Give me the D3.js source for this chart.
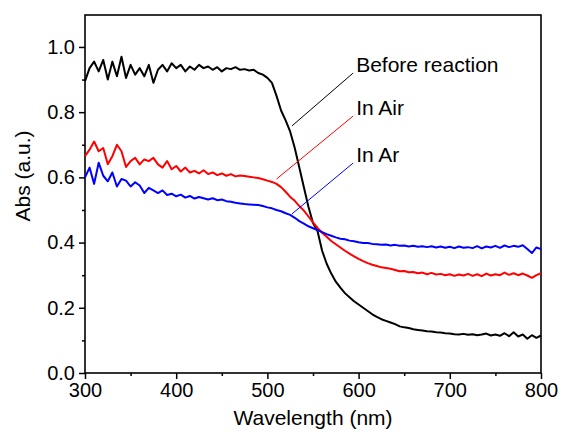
<!DOCTYPE html>
<html>
<head>
<meta charset="utf-8">
<script src="https://cdn.jsdelivr.net/npm/d3@7"></script>
<style>
  body { margin: 0; background: #fff; }
  text { font-family: "Liberation Sans", Arial, sans-serif; fill: #000; }
</style>
</head>
<body>
<svg id="chart"></svg>
<script>
// wavelength grid (nm), 5 nm steps
const wavelengths = d3.range(300, 801, 5);

// Before reaction
const beforeAbs = [
  0.895, 0.935, 0.955, 0.925, 0.960, 0.900, 0.955, 0.910, 0.970, 0.905,
  0.945, 0.915, 0.935, 0.910, 0.945, 0.890, 0.930, 0.945, 0.925, 0.950,
  0.935, 0.945, 0.925, 0.940, 0.930, 0.945, 0.935, 0.940, 0.930, 0.938,
  0.925, 0.935, 0.932, 0.938, 0.930, 0.932, 0.928, 0.930, 0.920, 0.915,
  0.905, 0.890, 0.850, 0.805, 0.775, 0.740, 0.690, 0.630, 0.570, 0.510,
  0.460, 0.435, 0.375, 0.335, 0.305, 0.280, 0.262, 0.245, 0.232, 0.220,
  0.210, 0.200, 0.190, 0.180, 0.172, 0.165, 0.160, 0.155, 0.150, 0.143,
  0.140, 0.138, 0.134, 0.132, 0.130, 0.128, 0.127, 0.125, 0.124, 0.122,
  0.121, 0.119, 0.118, 0.120, 0.117, 0.119, 0.116, 0.118, 0.121, 0.115,
  0.118, 0.114, 0.122, 0.113, 0.125, 0.112, 0.118, 0.105, 0.116, 0.108,
  0.115
];

// In Air
const airAbs = [
  0.665, 0.685, 0.710, 0.680, 0.690, 0.640, 0.665, 0.700, 0.680, 0.632,
  0.650, 0.660, 0.640, 0.655, 0.650, 0.660, 0.640, 0.630, 0.650, 0.625,
  0.635, 0.618, 0.630, 0.615, 0.620, 0.612, 0.622, 0.610, 0.615, 0.607,
  0.612, 0.605, 0.610, 0.603, 0.606, 0.604, 0.602, 0.600, 0.598, 0.594,
  0.590, 0.586, 0.580, 0.570, 0.556, 0.540, 0.528, 0.512, 0.498, 0.480,
  0.462, 0.445, 0.430, 0.418, 0.405, 0.395, 0.385, 0.375, 0.366, 0.358,
  0.350, 0.343, 0.337, 0.332, 0.328, 0.324, 0.322, 0.320, 0.316, 0.312,
  0.313, 0.309, 0.310, 0.306, 0.308, 0.303, 0.307, 0.302, 0.304, 0.300,
  0.303, 0.298, 0.302, 0.299, 0.304, 0.298, 0.303, 0.297, 0.305, 0.299,
  0.303, 0.300, 0.308, 0.301, 0.306, 0.300, 0.305, 0.299, 0.292, 0.300,
  0.306
];

// In Ar
const arAbs = [
  0.600, 0.630, 0.580, 0.645, 0.605, 0.588, 0.615, 0.572, 0.595, 0.590,
  0.572, 0.585, 0.575, 0.552, 0.568, 0.560, 0.552, 0.560, 0.546, 0.550,
  0.542, 0.547, 0.538, 0.543, 0.535, 0.540, 0.536, 0.532, 0.536, 0.530,
  0.532, 0.527, 0.525, 0.522, 0.520, 0.518, 0.517, 0.516, 0.515, 0.512,
  0.508, 0.505, 0.500, 0.496, 0.490, 0.485, 0.476, 0.466, 0.458, 0.450,
  0.444, 0.438, 0.432, 0.426, 0.421, 0.416, 0.412, 0.410, 0.406, 0.404,
  0.401, 0.399, 0.399, 0.396, 0.395, 0.393, 0.394, 0.391, 0.393, 0.390,
  0.391, 0.388, 0.390, 0.387, 0.389, 0.386, 0.389, 0.385, 0.388, 0.384,
  0.387, 0.383, 0.388, 0.384, 0.386, 0.383, 0.389, 0.382, 0.388, 0.385,
  0.390, 0.384, 0.391, 0.386, 0.390, 0.387, 0.392, 0.380, 0.368, 0.385,
  0.380
];

const seriesNames = ["Before reaction", "In Air", "In Ar"];
const seriesColors = ["#000000", "#ff0000", "#0000ff"];
// leader line: [label nm, label abs] -> [curve nm, curve abs]
const labelAt = [[594, 0.920], [594, 0.788], [594, 0.644]];
const pointAt = [[527, 0.758], [510, 0.595], [527, 0.488]];

const xTicks = [300, 400, 500, 600, 700, 800];
const yTicks = [0.0, 0.2, 0.4, 0.6, 0.8, 1.0];

const width = 563;
const height = 434;
const margin = { top: 15, right: 22, bottom: 61, left: 85 };
const plotWidth = width - margin.left - margin.right;
const plotHeight = height - margin.top - margin.bottom;

const svg = d3.select("#chart").attr("width", width).attr("height", height);
const plot = svg.append("g")
  .attr("transform", `translate(${margin.left}, ${margin.top})`);

const xScale = d3.scaleLinear().domain([300, 800]).range([0, plotWidth]);
const yScale = d3.scaleLinear().domain([0, 1.098]).range([plotHeight, 0]);

// minor ticks
const xMinor = d3.axisBottom(xScale).tickValues(d3.range(350, 800, 100)).tickSize(3).tickFormat("");
const yMinor = d3.axisLeft(yScale).tickValues([0.1, 0.3, 0.5, 0.7, 0.9]).tickSize(3).tickFormat("");
plot.append("g").attr("class", "axis").attr("transform", `translate(0, ${plotHeight})`).call(xMinor);
plot.append("g").attr("class", "axis").call(yMinor);

// major ticks
const xAxis = d3.axisBottom(xScale).tickValues(xTicks).tickSize(6).tickPadding(4).tickFormat(d3.format("d"));
const yAxis = d3.axisLeft(yScale).tickValues(yTicks).tickSize(6).tickPadding(4).tickFormat(d3.format(".1f"));
plot.append("g").attr("class", "axis").attr("transform", `translate(0, ${plotHeight})`).call(xAxis);
plot.append("g").attr("class", "axis").call(yAxis);

plot.selectAll(".axis .domain").remove();
plot.selectAll(".axis line").attr("stroke", "#000").attr("stroke-width", 1.5);
plot.selectAll(".axis text")
  .style("font-size", "20px")
  .style("font-family", '"Liberation Sans", Arial, sans-serif')
  .attr("fill", "#000");

// frame
plot.append("rect")
  .attr("width", plotWidth)
  .attr("height", plotHeight)
  .attr("fill", "none")
  .attr("stroke", "#000")
  .attr("stroke-width", 1.6);

// curves
const lineGen = d3.line()
  .x((d) => xScale(d[0]))
  .y((d) => yScale(d[1]));

const seriesData = [beforeAbs, airAbs, arAbs].map((vals) =>
  wavelengths.map((w, i) => [w, vals[i]])
);

plot.selectAll(".curve")
  .data(seriesData)
  .join("path")
  .attr("class", "curve")
  .attr("d", lineGen)
  .attr("fill", "none")
  .attr("stroke", (d, i) => seriesColors[i])
  .attr("stroke-width", 2)
  .attr("stroke-linejoin", "round");

// annotations
plot.selectAll(".leader")
  .data(seriesNames)
  .join("line")
  .attr("class", "leader")
  .attr("x1", (d, i) => xScale(labelAt[i][0]))
  .attr("y1", (d, i) => yScale(labelAt[i][1]))
  .attr("x2", (d, i) => xScale(pointAt[i][0]))
  .attr("y2", (d, i) => yScale(pointAt[i][1]))
  .attr("stroke", (d, i) => seriesColors[i])
  .attr("stroke-width", 1);

plot.selectAll(".label")
  .data(seriesNames)
  .join("text")
  .attr("class", "label")
  .attr("x", (d, i) => xScale(labelAt[i][0]) + 3)
  .attr("y", (d, i) => yScale(labelAt[i][1]) - 1)
  .style("font-size", "21px")
  .text((d) => d);

// axis titles
svg.append("text")
  .attr("x", margin.left + plotWidth / 2)
  .attr("y", 425)
  .attr("text-anchor", "middle")
  .style("font-size", "21px")
  .text("Wavelength (nm)");

svg.append("text")
  .attr("transform", "translate(30, 176) rotate(-90)")
  .attr("text-anchor", "middle")
  .style("font-size", "21px")
  .text("Abs (a.u.)");
</script>
</body>
</html>
